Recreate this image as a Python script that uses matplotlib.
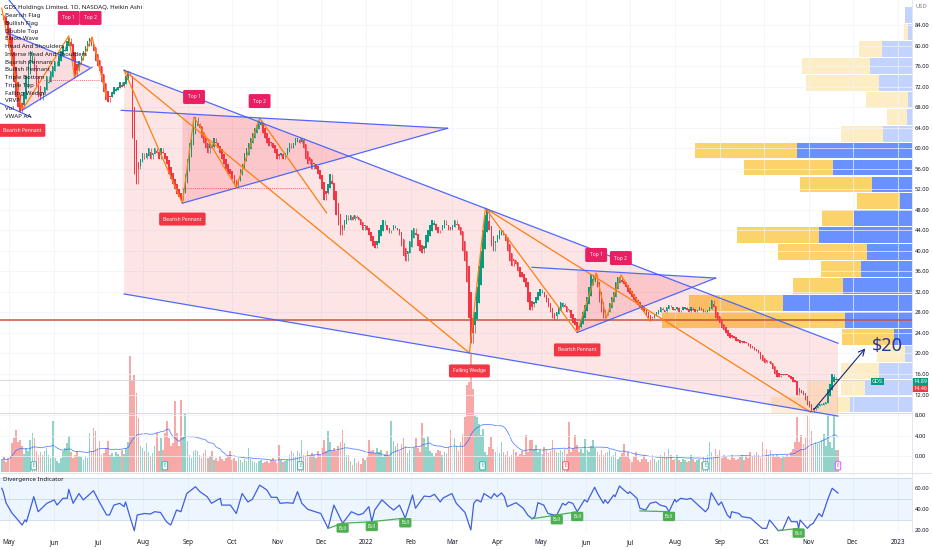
import numpy as np
import pandas as pd
import matplotlib
matplotlib.use('Agg')
import matplotlib.pyplot as plt
import matplotlib.dates as mdates
import matplotlib.transforms as mtransforms
from matplotlib.patches import Polygon

plt.rcParams['font.family'] = ['Noto Sans', 'DejaVu Sans']

# ---------------- data ----------------
# Heikin Ashi closes, one row per trading week (Mon..Fri), from 2021-04-26
closes = [
    86, 85, 84, 82, 80,          # Apr 26 2021
    76, 73, 70, 68, 67,
    68, 71, 74, 77, 79,
    78, 75, 72, 70, 69.5,
    71, 72, 74, 73, 75,
    76, 77, 76, 78, 79,          # May 31
    80, 79, 81, 81.5, 80,
    77, 74, 75, 77, 78,
    79, 80, 81, 81.5, 80,
    79, 77, 76, 75, 73,          # Jun 28
    71, 69.5, 69, 70, 71,
    72, 71.5, 72, 73, 72,
    73, 74, 75, 74, 62,
    55, 53, 56, 58, 59,          # Jul 26
    58, 59, 60, 58, 59,
    60, 59, 58, 60, 59,
    58, 57, 55, 54, 53,
    52, 51, 50.5, 50, 52,
    55, 58, 61, 63, 65,          # Aug 30
    66, 65, 64, 62, 61,
    60, 59, 61, 60, 62,
    61, 60, 59, 58, 57,
    56, 55, 55, 54, 53,
    52.5, 54, 56, 57, 59,        # Oct 4
    60, 61, 62, 63, 64,
    64.5, 65.5, 65, 63, 62,
    61, 60.5, 61, 60, 59,
    58, 58.5, 59, 58, 59,        # Nov 1
    60, 61, 60, 61, 62,
    62, 61, 62, 60, 58,
    57, 57.5, 56, 57, 56,
    55, 54, 52, 50, 51,          # Nov 29
    53, 55, 53, 50, 47,
    45, 43, 44, 46, 47,
    46, 47, 46, 47, 46.5,
    46, 45, 44, 45, 44,
    43, 42, 41, 40.5, 42,        # Jan 3 2022
    44, 45, 46, 45, 44,
    43.5, 44, 45, 44.5, 44,
    43, 41, 39, 38, 40,
    42, 44, 44.5, 43, 41,        # Jan 31
    40, 39.5, 41, 43, 44,
    45, 46, 45.5, 44, 43.5,
    44, 45, 46, 45, 44,
    44, 45, 46, 45, 44,          # Feb 28
    43, 40, 38, 34, 27,
    22, 24, 28, 33, 37,
    40, 44, 47, 48, 44,
    41, 40, 42, 43, 44,          # Mar 28
    44, 43, 42, 40, 38,
    37, 38, 37.5, 36, 35,
    35, 34, 33, 30, 28.5,
    29, 30, 31, 32, 32.5,        # Apr 25
    32, 31, 30, 29, 28,
    27, 26.5, 28, 29, 30,
    29.8, 29, 28, 28.5, 27,
    26, 25.5, 24.5, 25, 26.5,
    28, 29.5, 31, 33, 35.5,      # May 30
    34.5, 35.5, 33, 30, 28,
    27, 27.5, 28, 29.8, 31,
    32, 34, 35, 35, 34,
    33.5, 33, 32, 31.5, 31,      # Jun 27
    30.5, 30, 29.5, 29, 28.5,
    28, 27.5, 27, 26.5, 27,
    27.5, 28, 28.5, 29, 28.5,
    28, 29, 29.5, 29, 28.5,
    28.5, 29, 28, 28.5, 29,      # Aug 1
    29, 28.5, 28, 29, 28.5,
    28, 28.5, 29, 28.5, 28,
    28, 28.5, 29, 30.5, 29,
    27, 26.5, 26, 25, 24.5,      # Aug 29
    24, 23.5, 23, 23.2, 23,
    22.5, 22.5, 22, 22.5, 22,
    22, 21.5, 21, 21, 20.7,
    20.5, 20, 19, 18.5, 18.2,
    18.3, 18.5, 18, 17, 16,      # Oct 3
    15.4, 15.5, 15.8, 16, 15.8,
    15.8, 15.5, 15, 14.5, 14.4,
    12, 12.5, 12.3, 12, 11,
    10, 9.6, 8.6, 9, 9.5,        # Oct 31
    10, 10.2, 10, 10.3, 10.5,
    13, 14, 16, 15.4, 15,
    14.89,
]

# daily volume, millions of shares, same rows as closes
volumes = [
    1.2, 1.5, 1.0, 1.4, 1.6,
    2.9, 3.4, 4.2, 3.0, 3.2,
    2.6, 1.8, 2.4, 2.1, 3.2,
    3.9, 3.4, 2.1, 1.7, 2.0,
    1.7, 2.1, 2.4, 1.7, 1.4,
    5.1, 1.4, 1.1, 0.9, 1.4,
    2.1, 2.4, 2.9, 3.6, 2.0,
    1.4, 1.7, 2.1, 1.6, 1.5,
    1.2, 1.6, 1.4, 3.9, 2.1,
    4.4, 4.1, 2.4, 3.1, 1.7,
    1.9, 2.4, 3.1, 1.7, 1.9,
    1.5, 2.0, 1.8, 1.6, 2.2,
    1.8, 2.4, 3.0, 11.6, 9.2,
    9.7, 7.9, 5.4, 2.6, 2.4,
    2.1, 2.9, 2.0, 1.6, 1.9,
    2.6, 3.9, 2.1, 3.4, 2.2,
    3.9, 5.1, 3.4, 2.6, 2.9,
    7.1, 3.9, 2.6, 7.2, 3.5,
    5.9, 3.1, 1.7, 1.4, 2.1,
    2.2, 2.1, 1.7, 1.4, 1.9,
    2.2, 1.4, 1.6, 2.1, 1.2,
    1.4, 1.1, 1.6, 1.3, 1.1,
    1.4, 1.6, 2.1, 1.2, 1.4,
    1.1, 1.4, 1.2, 1.0, 1.3,
    1.1, 2.4, 1.3, 1.1, 1.0,
    0.9, 1.1, 1.2, 0.9, 1.0,
    1.1, 0.9, 1.2, 1.4, 1.1,
    0.9, 2.7, 1.2, 1.0, 1.1,
    1.2, 1.7, 2.1, 1.9, 1.5,
    2.1, 1.9, 3.2, 1.7, 1.5,
    2.1, 1.6, 1.9, 1.7, 1.4,
    2.1, 1.7, 2.4, 3.2, 2.1,
    4.1, 3.0, 2.1, 2.4, 2.1,
    2.6, 3.0, 4.2, 2.9, 1.7,
    1.7, 1.1, 0.7, 1.4, 0.9,
    1.1, 0.8, 1.4, 1.2, 1.5,
    3.2, 2.1, 2.2, 1.9, 2.4,
    2.0, 2.2, 1.5, 1.8, 2.1,
    1.6, 5.1, 3.1, 2.6, 2.9,
    2.1, 2.8, 3.4, 2.6, 1.9,
    2.2, 2.6, 2.4, 3.4, 2.4,
    2.0, 4.9, 3.4, 2.5, 3.6,
    2.1, 1.9, 1.6, 1.9, 2.2,
    2.1, 1.7, 2.0, 1.9, 2.5,
    4.2, 2.4, 3.4, 2.6, 2.1,
    3.0, 3.8, 5.5, 8.7, 9.0,
    11.8, 8.3, 5.7, 5.5, 4.8,
    3.7, 4.3, 2.0, 1.7, 2.5,
    3.5, 2.3, 2.0, 2.5, 1.9,
    3.0, 2.0, 1.7, 2.1, 1.5,
    1.7, 2.3, 2.0, 1.6, 1.8,
    2.1, 1.7, 3.7, 2.0, 3.2,
    3.2, 2.3, 2.7, 2.0, 2.2,
    1.8, 2.5, 2.3, 1.9, 2.1,
    3.2, 2.3, 2.0, 1.9, 2.2,
    2.0, 2.3, 1.8, 5.0, 2.0,
    2.4, 3.7, 2.7, 2.0, 2.3,
    1.9, 3.3, 2.2, 2.0, 2.6,
    3.2, 2.4, 2.0, 1.7, 2.2,
    1.7, 1.9, 2.0, 2.2, 1.6,
    1.7, 2.0, 1.3, 1.5, 1.9,
    2.8, 1.6, 2.0, 1.3, 1.0,
    1.5, 2.0, 1.2, 1.0, 1.3,
    1.7, 1.3, 1.0, 1.2, 1.7,
    1.3, 1.0, 1.2, 1.7, 1.4,
    2.0, 1.5, 2.3, 1.7, 1.2,
    1.3, 1.7, 1.2, 1.0, 1.3,
    1.2, 1.0, 1.1, 1.7, 1.3,
    1.0, 1.2, 1.3, 1.0, 1.5,
    1.3, 1.7, 3.0, 2.0, 1.4,
    2.3, 1.7, 2.2, 1.4, 1.7,
    1.5, 1.3, 1.2, 1.7, 1.4,
    1.2, 1.3, 1.5, 1.7, 1.2,
    1.6, 1.4, 2.0, 1.5, 1.7,
    2.0, 1.7, 1.4, 3.0, 2.0,
    2.3, 1.7, 2.2, 1.7, 1.5,
    1.7, 1.5, 1.4, 1.6, 1.5,
    1.7, 1.5, 2.0, 2.3, 3.0,
    5.5, 3.0, 3.7, 2.8, 3.4,
    5.7, 5.3, 4.1, 2.7, 3.0,
    2.8, 2.9, 3.2, 3.8, 2.6,
    5.7, 3.0, 2.4, 5.7, 2.2,
    2.2,
]

# visible range volume profile rows, top row first (millions)
vp_top = 87.6
vp_step = 3.3
vp_up = [0.7, 0.4, 3.0, 4.2, 3.3, 0.4, 0.5, 2.9, 11.5, 7.9, 4.0, 1.2,
         5.8, 9.3, 4.5, 5.1, 6.9, 12.9, 6.7, 1.8, 0.7, 3.3, 4.7, 6.2]
vp_down = [0.0, 0.4, 2.3, 6.8, 7.3, 4.2, 2.0, 4.2, 10.2, 8.9, 7.2, 4.3,
           3.2, 8.2, 8.9, 4.0, 5.0, 9.4, 18.3, 5.2, 2.8, 3.8, 2.4, 1.3]
value_area = range(8, 20)
poc_price = 26.5

# divergence indicator (RSI)
rsi_dates = [
    '2021-04-26', '2021-04-27', '2021-04-29', '2021-05-03', '2021-05-06', '2021-05-10',
    '2021-05-12', '2021-05-13', '2021-05-18', '2021-05-21', '2021-05-27', '2021-06-01',
    '2021-06-03', '2021-06-07', '2021-06-10', '2021-06-11', '2021-06-14', '2021-06-18',
    '2021-06-21', '2021-06-28', '2021-07-02', '2021-07-07', '2021-07-09', '2021-07-12',
    '2021-07-16', '2021-07-19', '2021-07-20', '2021-07-23', '2021-07-26', '2021-07-28',
    '2021-08-02', '2021-08-06', '2021-08-09', '2021-08-13', '2021-08-17', '2021-08-20',
    '2021-08-24', '2021-08-27', '2021-08-31', '2021-09-06', '2021-09-09', '2021-09-14',
    '2021-09-17', '2021-09-23', '2021-09-24', '2021-09-30', '2021-10-04', '2021-10-08',
    '2021-10-12', '2021-10-15', '2021-10-20', '2021-10-25', '2021-10-28', '2021-11-01',
    '2021-11-03', '2021-11-08', '2021-11-12', '2021-11-15', '2021-11-18', '2021-11-22',
    '2021-12-01', '2021-12-06', '2021-12-10', '2021-12-16', '2021-12-22', '2021-12-27',
    '2021-12-30', '2022-01-03', '2022-01-05', '2022-01-07', '2022-01-12', '2022-01-17',
    '2022-01-20', '2022-01-24', '2022-01-28', '2022-02-02', '2022-02-04', '2022-02-10',
    '2022-02-14', '2022-02-17', '2022-02-21', '2022-02-23', '2022-03-01', '2022-03-04',
    '2022-03-10', '2022-03-14', '2022-03-16', '2022-03-18', '2022-03-21', '2022-03-23',
    '2022-03-28', '2022-03-30', '2022-04-01', '2022-04-04', '2022-04-06', '2022-04-08',
    '2022-04-14', '2022-04-19', '2022-04-22', '2022-04-25', '2022-04-27', '2022-04-29',
    '2022-05-03', '2022-05-06', '2022-05-10', '2022-05-12', '2022-05-16', '2022-05-18',
    '2022-05-20', '2022-05-23', '2022-05-26', '2022-05-31', '2022-06-02', '2022-06-03',
    '2022-06-07', '2022-06-09', '2022-06-13', '2022-06-14', '2022-06-16', '2022-06-20',
    '2022-06-21', '2022-06-24', '2022-06-27', '2022-06-30', '2022-07-01', '2022-07-06',
    '2022-07-08', '2022-07-12', '2022-07-15', '2022-07-19', '2022-07-22', '2022-07-26',
    '2022-07-28', '2022-08-01', '2022-08-02', '2022-08-05', '2022-08-09', '2022-08-12',
    '2022-08-17', '2022-08-22', '2022-08-24', '2022-08-26', '2022-08-31', '2022-09-02',
    '2022-09-06', '2022-09-08', '2022-09-09', '2022-09-14', '2022-09-16', '2022-09-22',
    '2022-09-26', '2022-09-30', '2022-10-03', '2022-10-05', '2022-10-07', '2022-10-11',
    '2022-10-14', '2022-10-18', '2022-10-20', '2022-10-24', '2022-10-25', '2022-10-26',
    '2022-10-28', '2022-10-31', '2022-11-02', '2022-11-04', '2022-11-08', '2022-11-10',
    '2022-11-14', '2022-11-17', '2022-11-21',
]
rsi_vals = [
    60, 56.8, 46, 36.5, 31.7, 25,
    30, 28, 52, 37.7, 45.7, 48.9,
    44, 50.5, 50.5, 59, 45.7, 55,
    48.9, 57.7, 47, 34.6, 34.6, 44,
    45.7, 42.5, 47, 33, 19.6, 34.6,
    36, 35.5, 37.7, 37, 28.2, 25,
    39.3, 37.7, 55, 61.5, 56.8, 52,
    45.7, 50.5, 44, 44, 36, 55,
    47, 49.5, 63, 58.4, 51.4, 51.4,
    45.7, 46.3, 45.7, 56.8, 45.7, 40,
    36, 21.9, 44, 26.7, 37.7, 34.6,
    36, 42.5, 28.2, 39.3, 49, 42.5,
    39.3, 44, 31.7, 53.6, 41, 52.6,
    52, 54.3, 47, 50.8, 55, 45.7,
    37, 20.3, 45.7, 49, 47, 55,
    50.5, 55, 52, 55.6, 52, 42.5,
    46.3, 41, 34.6, 31, 33, 46.3,
    44, 36, 34.6, 34.6, 45.7, 44,
    47, 45.7, 37.7, 49, 47, 50.5,
    61, 55, 45.7, 49, 45.7, 53.6,
    52, 62.2, 58.4, 55, 56.8, 50.5,
    41, 39.3, 45.7, 47, 44, 42.5,
    37.7, 49.5, 47, 50.5, 49.5, 50.5,
    44, 37.7, 41, 55.8, 44, 47,
    34.6, 31.7, 37.7, 36, 33, 31.7,
    26.7, 21.9, 21.9, 29.8, 26.7, 19.7,
    20.3, 33, 28.2, 28.2, 21.9, 29.8,
    26.7, 21.9, 25, 26.7, 36, 33,
    49.5, 60, 55.5,
]

# bullish divergence segments on the indicator, and where the "Bull" tags sit
bull_lines = [
    [('2021-12-06', 21.9), ('2021-12-16', 26.7), ('2022-01-05', 28.2), ('2022-01-28', 31.7)],
    [('2022-04-25', 31.0), ('2022-05-12', 34.6), ('2022-05-26', 37.7)],
    [('2022-07-08', 38.5), ('2022-07-28', 37.7)],
    [('2022-10-11', 19.7), ('2022-10-25', 21.9)],
]
bull_tags = [('2021-12-16', 26.7), ('2022-01-05', 28.2), ('2022-01-28', 31.7),
             ('2022-05-12', 34.6), ('2022-05-26', 37.7), ('2022-07-28', 37.7),
             ('2022-10-25', 21.9)]

# chart pattern drawings (date, price)
wedge_top = [('2021-07-19', 75.2), ('2022-11-21', 22.0)]
wedge_bot = [('2021-07-19', 31.6), ('2022-11-21', 7.8)]
orange_paths = [
    [('2021-04-26', 87.3), ('2021-05-10', 67.4), ('2021-06-11', 81.9), ('2021-06-15', 73.7),
     ('2021-06-27', 81.7), ('2021-07-07', 70.0)],
    [('2021-07-19', 75.2), ('2021-08-28', 49.3), ('2021-09-05', 66.1), ('2021-10-04', 52.4),
     ('2021-10-20', 65.9), ('2021-12-05', 47.4)],
    [('2021-07-19', 75.2), ('2022-03-13', 20.1), ('2022-03-24', 48.3), ('2022-11-02', 8.6)],
    [('2022-03-24', 48.3), ('2022-05-26', 24.1), ('2022-06-08', 35.7), ('2022-06-15', 26.9),
     ('2022-06-25', 35.3), ('2022-07-15', 26.3)],
]
blue_paths = [
    [('2021-04-30', 82.5), ('2021-06-25', 75.8)],
    [('2021-05-10', 67.4), ('2021-06-27', 75.8)],
    [('2021-04-25', 68.8), ('2021-05-16', 66.1)],
    [('2021-05-01', 88.9), ('2021-05-16', 83.6)],
    [('2021-07-17', 67.4), ('2022-02-26', 63.9)],
    [('2021-08-28', 49.3), ('2022-02-26', 63.9)],
    [('2022-04-25', 36.8), ('2022-08-29', 34.7)],
    [('2022-05-26', 24.1), ('2022-08-29', 34.7)],
    wedge_top, wedge_bot,
]
pennant_fills = [
    [('2021-04-30', 82.5), ('2021-05-10', 67.4), ('2021-06-27', 75.8)],
    [('2021-08-28', 66.7), ('2021-08-28', 49.3), ('2022-02-26', 63.9)],
    [('2022-05-26', 36.1), ('2022-05-26', 24.1), ('2022-08-29', 34.7)],
]
dotted_lines = [
    [('2021-05-25', 73.3), ('2021-07-02', 73.3)],
    [('2021-08-28', 52.2), ('2021-11-23', 52.2)],
]
# recent-range profile boxes under the last swing (date from, date to, price low, price high)
recent_boxes = [('2022-10-06', '2022-11-21', 8.4, 11.5), ('2022-10-31', '2022-11-21', 11.6, 14.7)]
top_tags = [('2021-06-11', 85.4, 'Top 1'), ('2021-06-26', 85.4, 'Top 2'),
            ('2021-09-05', 70.0, 'Top 1'), ('2021-10-20', 69.2, 'Top 2'),
            ('2022-06-08', 39.2, 'Top 1'), ('2022-06-25', 38.6, 'Top 2')]
pattern_tags = [('2021-05-10', 63.5, 'Bearish Pennant'), ('2021-08-28', 46.2, 'Bearish Pennant'),
                ('2022-05-26', 20.7, 'Bearish Pennant'), ('2022-03-13', 16.6, 'Falling Wedge')]
target_arrow = [('2022-11-03', 8.6), ('2022-12-11', 21.4)]
target_text = ('2022-12-25', 21.4, '$20')

earn_dates = ['2021-05-18', '2021-08-16', '2021-11-17', '2022-03-22', '2022-05-18',
              '2022-08-22', '2022-11-21']
earn_colors = ['#26a69a', '#26a69a', '#26a69a', '#26a69a', '#f23645', '#26a69a', '#e040fb']

legend_items = ['Bearish Flag', 'Bullish Flag', 'Double Top', 'Elliott Wave', 'Head And Shoulders',
                'Inverse Head And Shoulders', 'Bearish Pennant', 'Bullish Pennant', 'Triple Bottom',
                'Triple Top', 'Falling Wedge', 'VRVP', 'Vol', 'VWAP AA']
month_labels = ['May', 'Jun', 'Jul', 'Aug', 'Sep', 'Oct', 'Nov', 'Dec', '2022', 'Feb', 'Mar', 'Apr',
                'May', 'Jun', 'Jul', 'Aug', 'Sep', 'Oct', 'Nov', 'Dec', '2023']
price_ticks = list(range(0, 88, 4))
last_close = 14.89
prev_close = 14.46
series_low = 8.4

# ---------------- helpers ----------------
def dn(s):
    return mdates.date2num(pd.Timestamp(s))

def pts(path):
    return [dn(d) for d, _ in path], [p for _, p in path]

n = len(closes)
start = dn('2021-04-26')
xs = start + np.arange(n) * 1.4          # trading bars evenly spaced like TradingView
c = np.array(closes, dtype=float)
o = np.empty(n)
o[0] = c[0]
for i in range(1, n):
    o[i] = (o[i - 1] + c[i - 1]) / 2
prev = np.r_[c[0], c[:-1]]
hi = np.maximum.reduce([o, c, prev])
lo = np.minimum.reduce([o, c, prev])
up = c >= o

GREEN, RED = '#089981', '#f23645'
TXT = '#131722'
FS = 4.2

fig = plt.figure(figsize=(9.32, 5.5), dpi=100)
W = 912 / 932
main_rect = [0, 78 / 550, W, 472 / 550]
ax_v = fig.add_axes(main_rect)
ax_p = fig.add_axes(main_rect)
ax = fig.add_axes(main_rect)
ax_r = fig.add_axes([0, 18 / 550, W, 58 / 550])

x0 = dn('2021-05-01') - 6.18
x1 = dn('2021-05-01') + 619.8
ylo, yhi = -3.1, 88.9

# volume (bottom layer)
vcol = np.where(up, '#92d3c9', '#f7a9a7')
ax_v.bar(xs, volumes, width=1.1, color=vcol, linewidth=0)
vma = pd.Series(volumes).rolling(20, min_periods=1).mean()
ax_v.plot(xs, vma, color='#2962ff', lw=0.6, alpha=0.75)
ax_v.set_xlim(x0, x1)
ax_v.set_ylim(0, 47.2)
ax_v.axis('off')

# volume profile
centers = [vp_top - vp_step * (i + 0.5) for i in range(len(vp_up))]
for i, yc in enumerate(centers):
    a = 0.7 if i in value_area else 0.28
    ax_p.barh(yc, vp_up[i], height=vp_step * 0.93, left=0, color='#2962ff', alpha=a, linewidth=0)
    ax_p.barh(yc, vp_down[i], height=vp_step * 0.93, left=vp_up[i], color='#fbc02d', alpha=a, linewidth=0)
ax_p.set_xlim(91.2, 0)
ax_p.set_ylim(ylo, yhi)
ax_p.axis('off')

# main pane
ax.patch.set_alpha(0)
ax.set_xlim(x0, x1)
ax.set_ylim(ylo, yhi)
for s in ax.spines.values():
    s.set_visible(False)
ax.set_xticks([])
ax.yaxis.tick_right()
ax.set_yticks(price_ticks)
ax.set_yticklabels(['%.2f' % t for t in price_ticks])
ax.tick_params(axis='y', length=0, labelsize=FS, labelcolor=TXT, pad=2)
for t in price_ticks:
    ax.axhline(t, color='#f0f3fa', lw=0.5, zorder=0)

month_pos = [dn(d) for d in pd.date_range('2021-05-01', '2023-01-01', freq='MS')]
for m in month_pos:
    ax.axvline(m, color='#f0f3fa', lw=0.5, zorder=0)
    ax_r.axvline(m, color='#f0f3fa', lw=0.5, zorder=0)

# wedge and pennant shading
wx1, wy1 = pts(wedge_top)
wx2, wy2 = pts(wedge_bot)
ax.add_patch(Polygon([(wx1[0], wy1[0]), (wx1[1], wy1[1]), (wx2[1], wy2[1]), (wx2[0], wy2[0])],
                     closed=True, fc=RED, alpha=0.13, ec='none', zorder=1))
for f in pennant_fills:
    fx, fy = pts(f)
    ax.add_patch(Polygon(list(zip(fx, fy)), closed=True, fc=RED, alpha=0.17, ec='none', zorder=1))
for d0, d1, p0, p1 in recent_boxes:
    ax.fill_between([dn(d0), dn(d1)], p0, p1, color='#ff9800', alpha=0.16, lw=0, zorder=1)

ax.axhline(poc_price, color='#c8553d', lw=1.3, alpha=0.85, zorder=2)
ax.axhline(last_close, color='#d1d4dc', lw=0.6, zorder=2)
ax.axhline(series_low, color='#d1d4dc', lw=0.6, zorder=2)

# Heikin Ashi candles
ccol = np.where(up, GREEN, RED)
ax.vlines(xs, lo, hi, colors=ccol, lw=0.5, zorder=3)
body = np.maximum(np.abs(c - o), 0.15)
ax.bar(xs, body, bottom=np.minimum(o, c), width=1.0, color=ccol, linewidth=0, zorder=3)

for p in orange_paths:
    px, py = pts(p)
    ax.plot(px, py, color='#ff7f0e', lw=0.9, zorder=4)
for p in blue_paths:
    px, py = pts(p)
    ax.plot(px, py, color='#3d5afe', lw=0.9, zorder=4, alpha=0.9)
for p in dotted_lines:
    px, py = pts(p)
    ax.plot(px, py, color=RED, lw=0.6, ls=(0, (1, 1.5)), zorder=4)

def tag(a, x, y, s, fc, fs=3.6, pad=0.7):
    a.text(x, y, s, ha='center', va='center', fontsize=fs, color='white', zorder=8,
           bbox=dict(boxstyle='round,pad=%.2f,rounding_size=0.3' % pad, fc=fc, ec='none'))

for d, p, s in top_tags:
    tag(ax, dn(d), p, s, '#e91e63', pad=0.9)
for d, p, s in pattern_tags:
    tag(ax, dn(d), p, s, RED, pad=0.8)

ax_x, ax_y = pts(target_arrow)
ax.annotate('', xy=(ax_x[1], ax_y[1]), xytext=(ax_x[0], ax_y[0]),
            arrowprops=dict(arrowstyle='->', color='#1a237e', lw=0.8, mutation_scale=11), zorder=6)
ax.text(dn(target_text[0]), target_text[1], target_text[2], ha='center', va='center',
        fontsize=13, color='#283593', fontweight='light', zorder=6)

for d, col in zip(earn_dates, earn_colors):
    ax.text(dn(d), -1.9, 'E', ha='center', va='center', fontsize=3.2, color=col, zorder=7,
            bbox=dict(boxstyle='round,pad=0.35,rounding_size=0.2', fc='white', ec=col, lw=0.6))

# legend text block
ax.text(0.004, 1 - 7 / 472, 'GDS Holdings Limited, 1D, NASDAQ, Heikin Ashi', transform=ax.transAxes,
        fontsize=4.4, color=TXT, va='center', ha='left', zorder=9)
for k, s in enumerate(legend_items):
    ax.text(0.006, 1 - (15.5 + 7.75 * k) / 472, s, transform=ax.transAxes,
            fontsize=4.4, color=TXT, va='center', ha='left', zorder=9)

# right-axis tags
bt = mtransforms.blended_transform_factory(ax.transAxes, ax.transData)
ax.text(1.0 + 9 / 912, yhi - 1.2, 'USD', transform=bt, fontsize=FS, color='#787b86',
        ha='center', va='center', clip_on=False)
ax.text(1.0 + 1 / 912, 14.6, '14.89', transform=bt, fontsize=3.9, color='white', ha='left',
        va='center', clip_on=False, zorder=9,
        bbox=dict(boxstyle='square,pad=0.2', fc=GREEN, ec='none'))
ax.text(1.0 + 1 / 912, 13.15, '14.46', transform=bt, fontsize=3.9, color='white', ha='left',
        va='center', clip_on=False, zorder=9,
        bbox=dict(boxstyle='square,pad=0.2', fc=RED, ec='none'))
ax.text(0.962, 14.6, 'GDS', transform=bt, fontsize=3.9, color='white', ha='center', va='center',
        zorder=9, bbox=dict(boxstyle='square,pad=0.2', fc=GREEN, ec='none'))

# divergence indicator pane
rx = [dn(d) for d in rsi_dates]
ax_r.set_xlim(x0, x1)
ax_r.set_ylim(18.4, 73.6)
ax_r.axhspan(30, 70, color='#2196f3', alpha=0.08, lw=0)
for lvl in (30, 50, 70):
    ax_r.axhline(lvl, color='#9fb3d9', lw=0.5, alpha=0.6)
ax_r.plot(rx, rsi_vals, color='#3f5fe0', lw=0.9, zorder=3)
for seg in bull_lines:
    sx, sy = pts(seg)
    ax_r.plot(sx, sy, color='#4caf50', lw=0.9, zorder=4)
for d, v in bull_tags:
    tag(ax_r, dn(d), v - 4.5, 'Bull', '#4caf50', fs=3.2, pad=0.5)
ax_r.text(0.003, 0.9, 'Divergence Indicator', transform=ax_r.transAxes, fontsize=4.4,
          color=TXT, va='center', ha='left')
for s in ax_r.spines.values():
    s.set_visible(False)
ax_r.yaxis.tick_right()
ax_r.set_yticks([20, 40, 60])
ax_r.set_yticklabels(['20.00', '40.00', '60.00'])
ax_r.tick_params(axis='y', length=0, labelsize=FS, labelcolor=TXT, pad=2)
ax_r.set_xticks(month_pos)
ax_r.set_xticklabels(month_labels)
ax_r.tick_params(axis='x', length=0, labelsize=4.6, labelcolor=TXT, pad=5)

fig.add_artist(plt.Line2D([0, 1], [1 - 473 / 550, 1 - 473 / 550], color='#e0e3eb', lw=0.8))
fig.add_artist(plt.Line2D([W, W], [18 / 550, 1], color='#e0e3eb', lw=0.6))

fig.savefig('out.png', dpi=100)
